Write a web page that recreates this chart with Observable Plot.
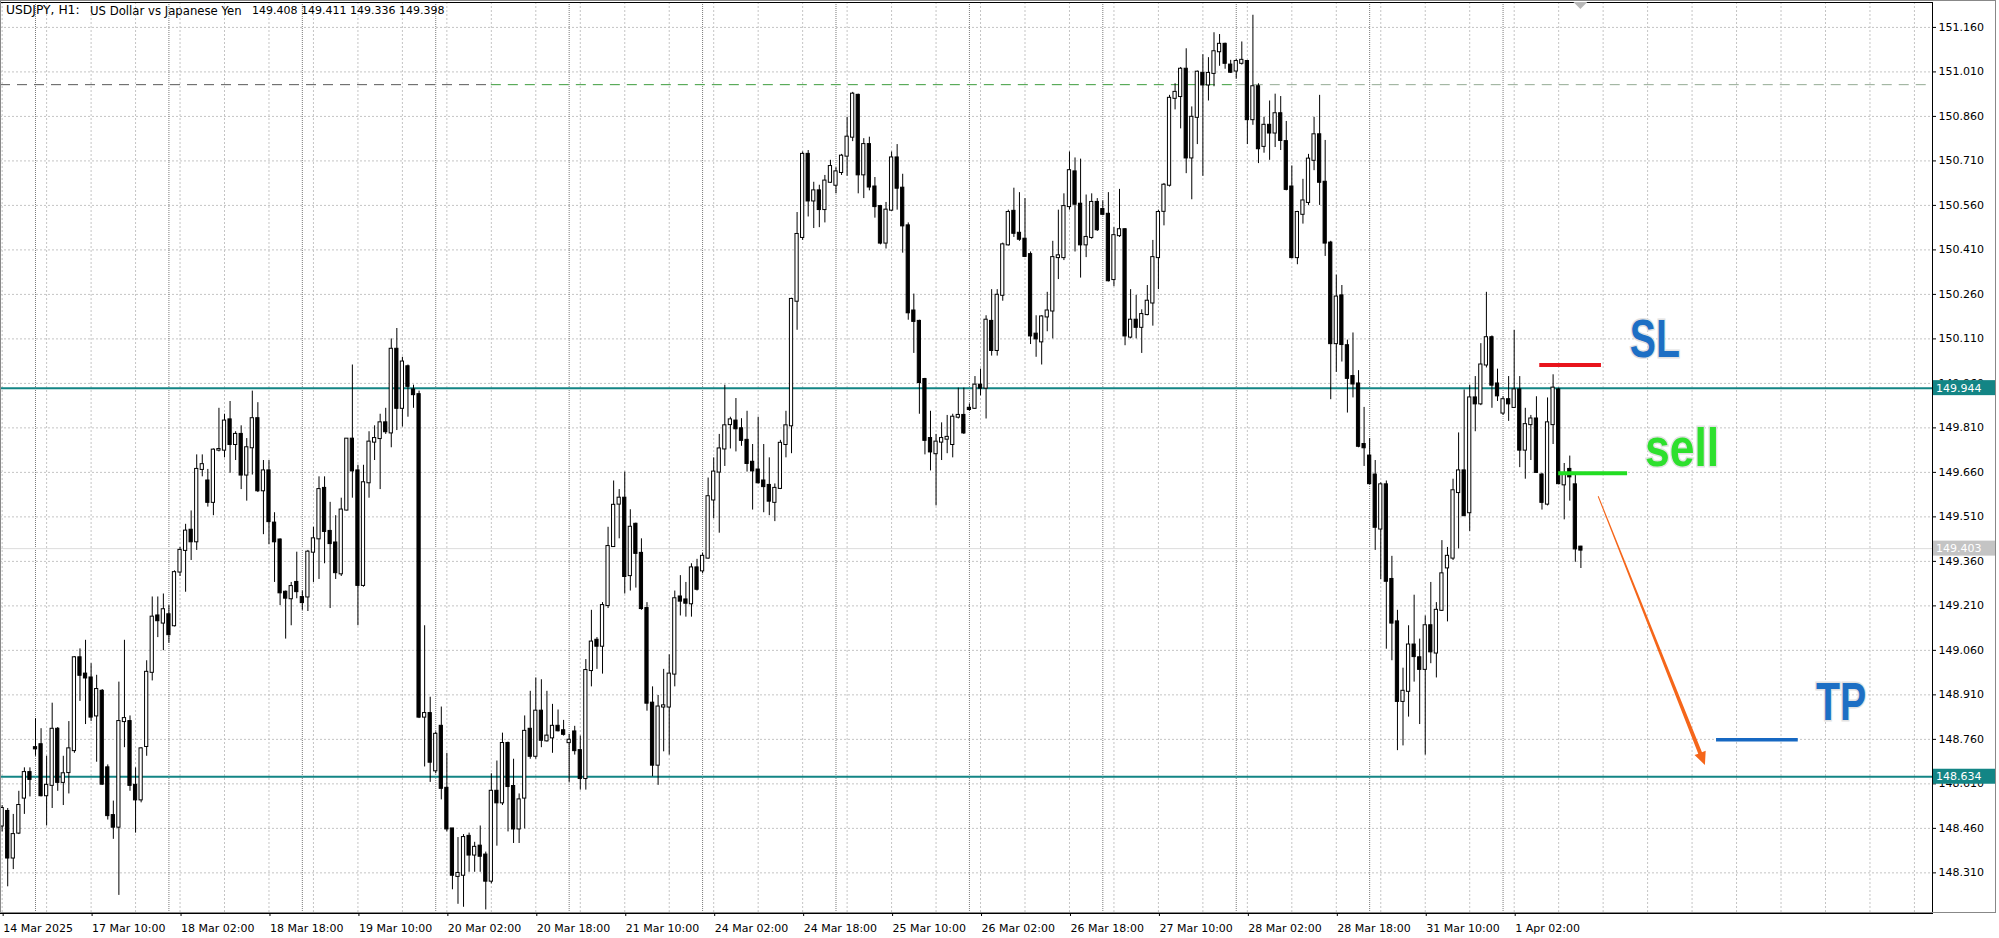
<!DOCTYPE html>
<html><head><meta charset="utf-8">
<script src="https://cdn.jsdelivr.net/npm/d3@7"></script>
<script src="https://cdn.jsdelivr.net/npm/@observablehq/plot@0.6"></script>
<style>
html,body{margin:0;padding:0;background:#fff;}
#chart{position:relative;width:1999px;height:938px;overflow:hidden;background:#fff;}
.ttl{position:absolute;top:4px;font:11px "DejaVu Sans";color:#000;white-space:pre;z-index:2;}
#t1{left:6px;font-size:12.3px;top:3px;}
#t2{left:90px;font-size:11.7px;}
#t3{left:252px;}
</style></head><body>
<div id="chart"><div id="t1" class="ttl"></div><div id="t2" class="ttl"></div><div id="t3" class="ttl"></div></div>
<script>
const symbolName = "USDJPY, H1:";
const symbolDesc = "US Dollar vs Japanese Yen";
const lastOHLC = [149.408, 149.411, 149.336, 149.398];

const open = [
148.468,148.517,148.360,148.444,148.562,148.648,148.732,148.742,148.570,148.605,
148.794,148.615,148.648,148.722,149.035,148.980,148.967,148.839,148.922,148.664,
148.503,148.464,148.820,148.820,148.605,148.556,148.736,148.986,149.176,149.152,
149.180,149.143,149.324,149.397,149.465,149.426,149.670,149.631,149.559,149.735,
149.735,149.837,149.754,149.788,149.651,149.743,149.841,149.598,149.665,149.489,
149.432,149.256,149.234,149.289,149.238,149.240,149.391,149.436,149.606,149.461,
149.422,149.318,149.533,149.772,149.665,149.279,149.625,149.762,149.774,149.827,
149.793,150.075,149.876,150.016,149.938,149.922,148.835,148.847,148.654,148.804,
148.595,148.458,148.298,148.302,148.433,148.370,148.400,148.370,148.282,148.585,
148.546,148.746,148.601,148.458,148.562,148.794,148.703,148.855,148.755,148.765,
148.804,148.789,148.749,148.785,148.722,148.628,148.992,149.094,149.074,149.211,
149.410,149.553,149.573,149.312,149.485,149.387,149.201,148.882,148.673,148.869,
148.869,148.980,149.240,149.230,149.217,149.338,149.328,149.371,149.567,149.661,
149.739,149.821,149.833,149.807,149.768,149.694,149.668,149.631,149.616,149.559,
149.606,149.754,149.817,150.237,150.452,150.732,150.575,150.609,150.546,150.638,
150.628,150.671,150.726,150.790,150.931,150.663,150.765,150.622,150.556,150.433,
150.544,150.720,150.618,150.491,150.204,150.169,149.973,149.774,149.723,149.762,
149.772,149.754,149.846,149.852,149.876,149.876,149.954,149.944,150.169,150.071,
150.257,150.427,150.540,150.466,150.446,150.394,150.126,150.100,150.184,150.204,
150.384,150.384,150.556,150.673,150.564,150.427,150.452,150.570,150.546,150.530,
150.310,150.458,150.478,150.116,150.173,150.149,150.192,150.231,150.384,150.540,
150.628,150.921,150.927,151.019,150.720,150.857,151.005,150.966,151.005,151.078,
151.103,151.033,151.013,151.039,151.045,150.849,150.960,150.759,150.830,150.804,
150.869,150.775,150.622,150.384,150.530,150.570,150.712,150.798,150.638,150.433,
150.094,150.255,150.087,149.983,149.958,149.754,149.715,149.651,149.469,149.618,
149.299,149.156,148.888,148.922,149.078,149.035,148.996,149.143,149.051,149.195,
149.338,149.371,149.592,149.665,149.524,149.911,149.891,150.022,150.114,149.958,
149.860,149.905,149.879,149.938,149.735,149.821,149.840,149.651,149.553,149.821,
149.938,149.618,149.670,149.618,149.408];

const high = [
148.537,148.527,148.507,148.585,148.664,148.664,148.830,148.796,148.703,148.882,
148.800,148.703,148.820,149.039,149.065,149.094,149.015,148.976,148.928,148.674,
148.552,148.953,149.094,148.839,148.664,148.732,149.025,149.240,149.240,149.250,
149.211,149.328,149.407,149.485,149.530,149.719,149.719,149.670,149.739,149.876,
149.856,149.899,149.797,149.817,149.774,149.934,149.895,149.700,149.700,149.524,
149.436,149.260,149.289,149.391,149.260,149.397,149.475,149.645,149.645,149.559,
149.514,149.573,149.774,150.022,149.684,149.684,149.797,149.817,149.856,149.876,
150.110,150.145,150.048,150.022,149.954,149.934,149.143,148.902,148.785,148.869,
148.713,148.458,148.429,148.439,148.444,148.413,148.468,148.380,148.644,148.687,
148.781,148.751,148.693,148.576,148.839,148.922,148.967,148.961,148.922,148.878,
148.859,148.824,148.777,148.804,148.771,149.029,149.195,149.103,149.221,149.475,
149.631,149.602,149.661,149.534,149.489,149.436,149.221,148.937,148.908,148.996,
149.045,149.260,149.312,149.289,149.352,149.367,149.387,149.641,149.709,149.788,
149.954,149.846,149.909,149.841,149.866,149.754,149.846,149.754,149.709,149.621,
149.768,149.866,150.247,150.536,150.740,150.745,150.638,150.628,150.661,150.712,
150.687,150.732,150.857,150.941,150.935,150.785,150.790,150.654,150.560,150.570,
150.740,150.765,150.665,150.501,150.261,150.173,149.977,149.866,149.788,149.827,
149.852,149.856,149.944,149.944,149.891,149.983,150.008,150.188,150.276,150.276,
150.433,150.544,150.618,150.603,150.583,150.403,150.188,150.188,150.267,150.439,
150.544,150.599,150.740,150.720,150.716,150.595,150.599,150.583,150.575,150.603,
150.485,150.614,150.482,150.276,150.257,150.208,150.290,150.442,150.544,150.634,
150.931,150.970,151.025,151.088,150.892,151.013,151.068,151.058,151.142,151.136,
151.107,151.049,151.052,151.111,151.049,151.201,150.970,150.857,150.912,150.935,
150.927,150.843,150.693,150.540,150.648,150.732,150.857,150.931,150.779,150.439,
150.325,150.290,150.106,150.130,150.003,149.879,149.774,149.700,149.625,149.631,
149.377,149.195,149.000,149.143,149.246,149.098,149.176,149.289,149.221,149.430,
149.407,149.637,149.793,149.938,149.954,149.983,150.094,150.267,150.120,150.008,
149.915,149.983,150.139,149.983,149.876,149.852,149.915,149.657,149.911,149.989,
149.944,149.690,149.715,149.651,149.411];

const low = [
148.448,148.263,148.321,148.439,148.507,148.566,148.703,148.566,148.468,148.527,
148.585,148.537,148.576,148.713,148.888,148.810,148.820,148.683,148.605,148.488,
148.423,148.234,148.732,148.585,148.444,148.546,148.703,148.957,149.103,149.059,
149.084,149.139,149.309,149.256,149.363,149.397,149.645,149.543,149.514,149.729,
149.709,149.657,149.700,149.602,149.563,149.651,149.592,149.450,149.416,149.289,
149.211,149.098,149.143,149.234,149.195,149.191,149.289,149.299,149.352,149.201,
149.299,149.309,149.530,149.573,149.143,149.273,149.573,149.700,149.602,149.788,
149.743,149.801,149.813,149.846,149.876,148.830,148.667,148.615,148.644,148.556,
148.448,148.253,148.204,148.194,148.312,148.312,148.312,148.185,148.273,148.400,
148.537,148.448,148.409,148.409,148.458,148.693,148.693,148.732,148.751,148.713,
148.785,148.771,148.615,148.707,148.589,148.589,148.937,148.996,148.980,149.201,
149.407,149.436,149.250,149.260,149.270,149.195,148.855,148.634,148.605,148.718,
148.707,148.937,149.176,149.172,149.172,149.260,149.318,149.367,149.504,149.455,
149.680,149.739,149.729,149.748,149.661,149.533,149.621,149.524,149.514,149.494,
149.602,149.709,149.723,150.139,150.442,150.521,150.482,150.485,150.501,150.634,
150.599,150.661,150.658,150.775,150.599,150.583,150.609,150.517,150.427,150.413,
150.540,150.544,150.399,150.173,150.061,149.856,149.719,149.665,149.547,149.700,
149.723,149.709,149.840,149.788,149.866,149.872,149.918,149.840,150.052,150.052,
150.237,150.423,150.452,150.439,150.384,150.091,150.048,150.022,150.134,150.110,
150.310,150.374,150.544,150.403,150.315,150.384,150.446,150.472,150.525,150.302,
150.286,150.452,150.087,150.110,150.110,150.061,150.188,150.153,150.276,150.491,
150.622,150.882,150.818,150.667,150.579,150.765,150.658,150.912,150.960,151.029,
151.019,151.005,150.986,151.033,150.765,150.830,150.701,150.736,150.712,150.755,
150.745,150.609,150.380,150.360,150.497,150.560,150.677,150.560,150.388,149.905,
149.997,150.032,149.860,149.911,149.743,149.680,149.618,149.397,149.299,149.064,
149.025,148.722,148.738,148.835,148.953,148.810,148.707,149.015,148.967,149.191,
149.156,149.363,149.402,149.514,149.461,149.797,149.885,150.012,149.876,149.899,
149.852,149.832,149.876,149.676,149.637,149.700,149.657,149.533,149.547,149.754,
149.618,149.500,149.563,149.357,149.336];

const close = [
148.527,148.360,148.439,148.537,148.648,148.625,148.728,148.570,148.605,148.794,
148.615,148.644,148.728,149.035,148.976,148.967,148.835,148.928,148.609,148.503,
148.464,148.820,148.830,148.605,148.556,148.728,148.986,149.172,149.160,149.197,
149.113,149.322,149.397,149.462,149.426,149.670,149.686,149.559,149.735,149.737,
149.833,149.754,149.788,149.651,149.743,149.841,149.598,149.665,149.494,149.426,
149.254,149.236,149.275,149.258,149.221,149.391,149.436,149.602,149.461,149.420,
149.322,149.533,149.772,149.665,149.279,149.625,149.762,149.774,149.827,149.797,
150.075,149.876,150.032,149.950,149.922,148.835,148.847,148.683,148.777,148.595,
148.458,148.302,148.308,148.429,148.370,148.396,148.366,148.282,148.585,148.546,
148.746,148.601,148.458,148.556,148.787,148.703,148.855,148.757,148.771,148.804,
148.789,148.777,148.757,148.722,148.628,148.992,149.088,149.074,149.211,149.410,
149.549,149.573,149.309,149.475,149.387,149.201,148.882,148.673,148.869,148.873,
148.980,149.234,149.226,149.219,149.338,149.266,149.377,149.578,149.661,149.739,
149.817,149.837,149.807,149.768,149.690,149.665,149.625,149.612,149.563,149.606,
149.758,149.817,150.243,150.462,150.732,150.575,150.609,150.546,150.642,150.691,
150.673,150.726,150.790,150.935,150.663,150.765,150.622,150.556,150.433,150.544,
150.720,150.618,150.491,150.198,150.169,149.963,149.768,149.729,149.762,149.774,
149.778,149.846,149.852,149.793,149.872,149.954,149.944,150.173,150.071,150.257,
150.427,150.536,150.466,150.446,150.388,150.120,150.110,150.184,150.204,150.384,
150.390,150.556,150.677,150.564,150.427,150.452,150.570,150.478,150.530,150.306,
150.458,150.478,150.120,150.173,150.149,150.192,150.237,150.384,150.536,150.628,
150.921,150.941,151.019,150.720,150.857,151.009,150.966,151.005,151.078,151.103,
151.039,151.009,151.045,151.049,150.849,150.960,150.751,150.830,150.804,150.869,
150.779,150.614,150.384,150.536,150.575,150.716,150.798,150.638,150.433,150.094,
150.251,150.091,149.977,149.958,149.748,149.743,149.622,149.475,149.618,149.293,
149.152,148.888,148.922,149.078,149.039,148.996,149.143,149.055,149.195,149.318,
149.377,149.598,149.665,149.514,149.911,149.891,150.022,150.114,149.954,149.918,
149.905,149.891,149.938,149.735,149.821,149.840,149.660,149.559,149.827,149.944,
149.622,149.651,149.645,149.402,149.398];

// time axis: label text and the hourly bar index it sits on
const timeLabels = ["14 Mar 2025","17 Mar 10:00","18 Mar 02:00","18 Mar 18:00","19 Mar 10:00","20 Mar 02:00",
  "20 Mar 18:00","21 Mar 10:00","24 Mar 02:00","24 Mar 18:00","25 Mar 10:00","26 Mar 02:00","26 Mar 18:00",
  "27 Mar 10:00","28 Mar 02:00","28 Mar 18:00","31 Mar 10:00","1 Apr 02:00"];
const labelBars = [0,16,32,48,64,80,96,112,128,144,160,176,192,208,224,240,256,272];
const daySeparatorBars = [6,30,54,78,102,126,150,174,198,222,246,270];
const priceTicks = [148.310,148.460,148.610,148.760,148.910,149.060,149.210,149.360,149.510,149.660,
  149.810,149.960,150.110,150.260,150.410,150.560,150.710,150.860,151.010,151.160];

const levelLines = [149.944, 148.634];
const bidPrice = 149.403;
const dashedLevel = 150.967;
const dashedSegments = [
  {from: -0.297, to: 88, color: "#585858"},
  {from: 88, to: 222, color: "#3c9c3c"},
  {from: 222, to: 347.25, color: "#94aa94"}
];

const slLine = {price: 150.022, from: 276.6, to: 287.7};
const sellLine = {price: 149.657, from: 280.0, to: 292.4};
const tpLine = {price: 148.759, from: 308.4, to: 323.1};
const arrowSpec = {fromBar: 287.2, fromPrice: 149.578, toBar: 306.4, toPrice: 148.672};
const tags = [
  {text: "SL", bar: 292.9, price: 150.046, color: "#1d6fc4"},
  {text: "sell", bar: 295.6, price: 149.680, color: "#2ee02e"},
  {text: "TP", bar: 326.4, price: 148.825, color: "#1d6fc4"}
];

document.getElementById("t1").textContent = symbolName;
document.getElementById("t2").textContent = symbolDesc;
document.getElementById("t3").textContent = lastOHLC.map(v => v.toFixed(3)).join(" ");

const bars = open.map((o, i) => ({
  i, o, h: high[i], l: low[i], c: close[i], up: close[i] >= o
}));
const labelOf = new Map(labelBars.map((b, k) => [b, timeLabels[k]]));
const gridBars = d3.range(0, 347, 8);

const W = 1999, H = 938;
const plot = Plot.plot({
  width: W, height: H,
  marginLeft: 0, marginRight: 67, marginTop: 2, marginBottom: 25,
  style: {fontFamily: "DejaVu Sans", fontSize: "11px", background: "white", color: "#000"},
  x: {type: "linear", domain: [-0.297, 347.25]},
  y: {type: "linear", domain: [148.173, 151.244]},
  marks: [
    Plot.ruleY(priceTicks, {stroke: "#c4c4c4", strokeDasharray: "2,2"}),
    Plot.ruleX(gridBars, {stroke: "#c4c4c4", strokeDasharray: "2,2"}),
    Plot.ruleX(daySeparatorBars, {stroke: "#7a7a7a", strokeDasharray: "1,1"}),
    Plot.ruleY([bidPrice], {stroke: "#dcdcdc"}),
    Plot.ruleY(dashedSegments, {y: () => dashedLevel, x1: "from", x2: "to", stroke: "color", strokeDasharray: "10,7"}),
    Plot.ruleY(levelLines, {stroke: "#138585", strokeWidth: 2}),
    Plot.ruleX(bars, {x: "i", y1: "l", y2: "h", stroke: "#000", strokeWidth: 1}),
    Plot.rect(bars, {
      x1: d => d.i - 0.29, x2: d => d.i + 0.29,
      y1: d => Math.max(d.o, d.c), y2: d => Math.min(d.o, d.c),
      fill: d => d.up ? "#fff" : "#000", stroke: "#000", strokeWidth: 1,
      insetTop: -0.5, insetBottom: -0.5
    }),
    Plot.ruleY([slLine], {y: "price", x1: "from", x2: "to", stroke: "#e8141c", strokeWidth: 4}),
    Plot.ruleY([sellLine], {y: "price", x1: "from", x2: "to", stroke: "#22dd22", strokeWidth: 4}),
    Plot.ruleY([tpLine], {y: "price", x1: "from", x2: "to", stroke: "#1668c2", strokeWidth: 3.5}),
    Plot.axisY(priceTicks, {anchor: "right", tickSize: 3, tickPadding: 3, tickFormat: d => d.toFixed(3),
      fontSize: 11, label: null}),
    Plot.axisX(labelBars, {anchor: "bottom", tickSize: 3, tickPadding: 8, tickFormat: d => labelOf.get(d),
      textAnchor: "start", dx: 1, fontSize: 11, label: null}),
    Plot.frame({stroke: "#000"})
  ]
});

document.getElementById("chart").appendChild(plot);

const svg = d3.select(plot);
const ys = plot.scale("y");
const xs = plot.scale("x");

function priceTag(value, bg, fg) {
  const yy = ys.apply(value);
  svg.append("rect").attr("x", 1933).attr("y", yy - 7.5).attr("width", 62).attr("height", 15).attr("fill", bg);
  svg.append("text").attr("x", 1936).attr("y", yy + 4).attr("fill", fg).attr("text-anchor", "start")
    .attr("font-family", "DejaVu Sans").attr("font-size", 11).text(value.toFixed(3));
}
levelLines.forEach(v => priceTag(v, "#138585", "#fff"));
priceTag(bidPrice, "#c4c4c4", "#fff");

// tapered orange arrow (thin tail, wider shaft, filled head)
{
  const x1 = xs.apply(arrowSpec.fromBar), y1 = ys.apply(arrowSpec.fromPrice);
  const x2 = xs.apply(arrowSpec.toBar), y2 = ys.apply(arrowSpec.toPrice);
  const len = Math.hypot(x2 - x1, y2 - y1), ux = (x2 - x1) / len, uy = (y2 - y1) / len;
  const nx = -uy, ny = ux, head = 13;
  const bx = x2 - ux * head, by = y2 - uy * head;
  const pts = [
    [x1 + nx * 0.5, y1 + ny * 0.5], [bx + nx * 2, by + ny * 2], [bx + nx * 6, by + ny * 6], [x2, y2],
    [bx - nx * 6, by - ny * 6], [bx - nx * 2, by - ny * 2], [x1 - nx * 0.5, y1 - ny * 0.5]
  ];
  svg.append("path").attr("d", "M" + pts.map(p => p.join(",")).join("L") + "Z").attr("fill", "#f5661a");
}

// SL / sell / TP labels: bold, narrow, with a light halo
const tagG = svg.append("g").attr("font-family", "Liberation Sans").attr("font-weight", "bold")
  .attr("text-anchor", "start");
tags.forEach(t => {
  tagG.append("text")
    .attr("transform", `translate(${xs.apply(t.bar)},${ys.apply(t.price)}) scale(${t.text === "sell" ? 0.84 : 0.74},1)`)
    .attr("font-size", 53).attr("fill", t.color)
    .attr("stroke", "#e2e2e2").attr("stroke-width", 3).attr("paint-order", "stroke")
    .text(t.text);
});

// chart-shift marker at the top of the last bar
const lx = xs.apply(open.length - 1);
svg.append("path").attr("d", `M${lx-7},2 L${lx+7},2 L${lx},9 Z`).attr("fill", "#b8b8b8");
// outer border
svg.append("rect").attr("x", 0.5).attr("y", 0.5).attr("width", W - 4).attr("height", H - 26)
  .attr("fill", "none").attr("stroke", "#888");
</script>
</body></html>
